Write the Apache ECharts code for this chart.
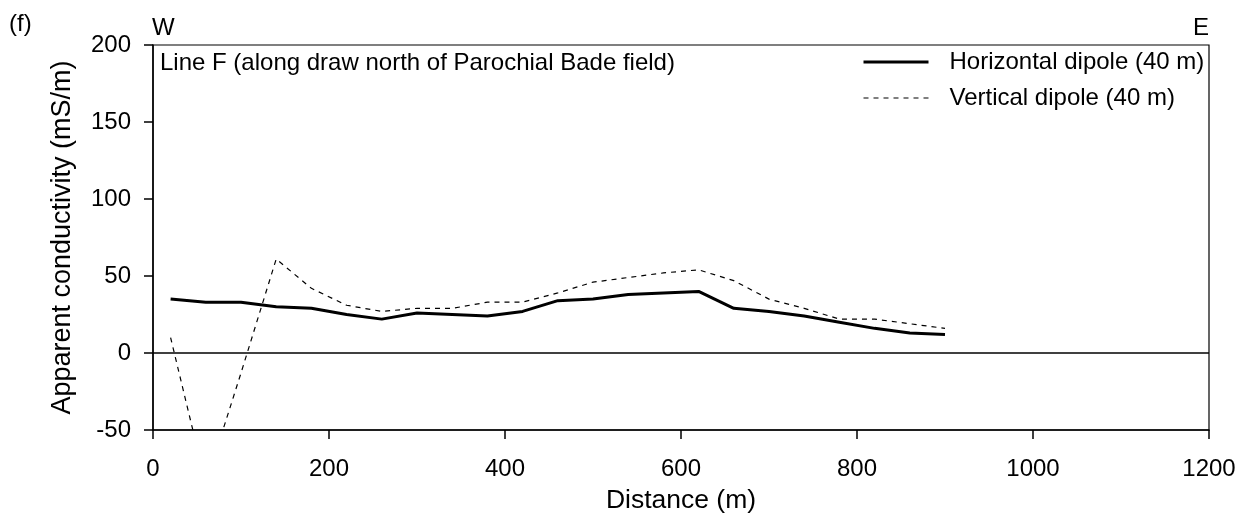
<!DOCTYPE html>
<html>
<head>
<meta charset="utf-8">
<script src="https://cdn.jsdelivr.net/npm/echarts@6/dist/echarts.min.js"></script>
<style>
  html, body { margin: 0; padding: 0; background: #fff; }
  #chart { width: 1247px; height: 521px; }
</style>
</head>
<body>
<div id="chart"></div>
<script>
// distance along line (m)
const distance = [20, 60, 100, 140, 180, 220, 260, 300, 340, 380, 420, 460, 500, 540, 580, 620, 660, 700, 740, 780, 820, 860, 900];
// apparent conductivity (mS/m)
const horizontal = [35, 33, 33, 30, 29, 25, 22, 26, 25, 24, 27, 34, 35, 38, 39, 40, 29, 27, 24, 20, 16, 13, 12];
const vertical = [10, -85, -13, 61, 42, 31, 27, 29, 29, 33, 33, 39, 46, 49, 52, 54, 47, 35, 29, 22, 22, 19, 16];

const xTicks = [0, 200, 400, 600, 800, 1000, 1200];
const yTicks = [-50, 0, 50, 100, 150, 200];

const FONT = '"Liberation Sans", Arial, sans-serif';
const pairs = (ys) => distance.map((d, i) => [d, ys[i]]);

const chart = echarts.init(document.getElementById('chart'));
chart.setOption({
  animation: false,
  grid: { left: 153, top: 45, right: 38, bottom: 91, show: true, borderColor: '#000', borderWidth: 1.2 },
  xAxis: {
    type: 'value', min: xTicks[0], max: xTicks[xTicks.length - 1], interval: 200,
    name: 'Distance (m)', nameLocation: 'middle', nameGap: 57,
    nameTextStyle: { fontFamily: FONT, fontSize: 26.5, color: '#000' },
    axisLine: { onZero: false, lineStyle: { color: '#000', width: 1.5 } },
    axisTick: { show: true, inside: false, length: 9, lineStyle: { color: '#000', width: 1.5 } },
    axisLabel: { fontFamily: FONT, fontSize: 24, color: '#000', margin: 27, formatter: v => String(v) },
    splitLine: { show: false }
  },
  yAxis: {
    type: 'value', min: yTicks[0], max: yTicks[yTicks.length - 1], interval: 50,
    name: 'Apparent conductivity (mS/m)', nameLocation: 'middle', nameGap: 77,
    nameTextStyle: { fontFamily: FONT, fontSize: 27, color: '#000' },
    axisLine: { show: true, onZero: false, lineStyle: { color: '#000', width: 1.5 } },
    axisTick: { show: true, inside: false, length: 9, lineStyle: { color: '#000', width: 1.5 } },
    axisLabel: { fontFamily: FONT, fontSize: 24, color: '#000', margin: 22 },
    splitLine: { show: false }
  },
  legend: {
    orient: 'vertical', left: 862, top: 50, padding: 0, itemWidth: 65, itemHeight: 14, itemGap: 12,
    itemStyle: { opacity: 0 },
    textStyle: { fontFamily: FONT, fontSize: 24, color: '#000', padding: [0, 0, 0, 16] },
    data: [
      { name: 'Horizontal dipole (40 m)', lineStyle: { color: '#000', width: 3, type: 'solid' } },
      { name: 'Vertical dipole (40 m)', lineStyle: { color: '#000', width: 1.2, type: [5, 5] } }
    ]
  },
  series: [
    {
      name: 'Horizontal dipole (40 m)', type: 'line', data: pairs(horizontal),
      showSymbol: false, symbol: 'none', clip: true,
      itemStyle: { color: '#000' },
      lineStyle: { color: '#000', width: 3 },
      markLine: {
        silent: true, symbol: 'none', label: { show: false },
        lineStyle: { color: '#000', width: 1.5, type: 'solid' },
        data: [{ yAxis: 0 }]
      }
    },
    {
      name: 'Vertical dipole (40 m)', type: 'line', data: pairs(vertical),
      showSymbol: false, symbol: 'none', clip: true,
      itemStyle: { color: '#000' },
      lineStyle: { color: '#000', width: 1.2, type: [5, 5] }
    }
  ],
  graphic: [
    { type: 'text', left: 9, top: 12, style: { text: '(f)', fontFamily: FONT, fontSize: 24, fill: '#000' } },
    { type: 'text', left: 152, top: 16, style: { text: 'W', fontFamily: FONT, fontSize: 24, fill: '#000' } },
    { type: 'text', right: 38, top: 16, style: { text: 'E', fontFamily: FONT, fontSize: 24, fill: '#000' } },
    { type: 'text', left: 160, top: 51, style: { text: 'Line F (along draw north of Parochial Bade field)', fontFamily: FONT, fontSize: 24, fill: '#000' } }
  ]
});
</script>
</body>
</html>
